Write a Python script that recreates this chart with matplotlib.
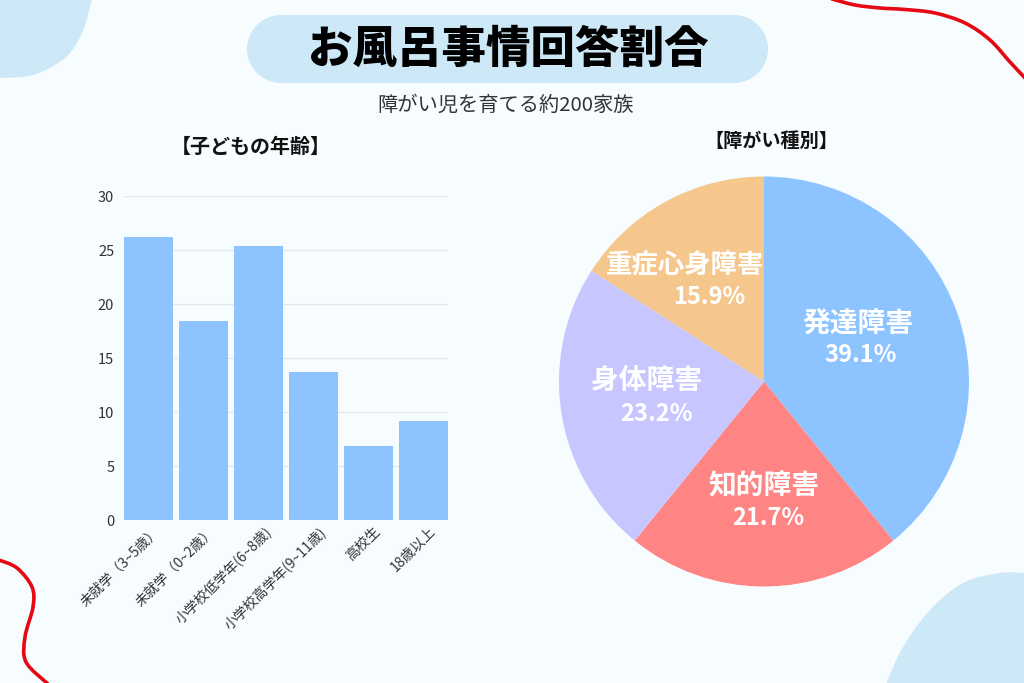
import matplotlib
matplotlib.use("Agg")
import matplotlib.pyplot as plt
from matplotlib.patches import PathPatch
from matplotlib.path import Path
from matplotlib.transforms import ScaledTranslation

plt.rcParams['font.family'] = ['Noto Sans CJK JP', 'DejaVu Sans']

age_labels = ['未就学（3~5歳）', '未就学（0~2歳）', '小学校低学年(6~8歳)', '小学校高学年(9~11歳)', '高校生', '18歳以上']
age_values = [26.2, 18.45, 25.4, 13.75, 6.85, 9.15]
y_ticks = [0, 5, 10, 15, 20, 25, 30]

kind_labels = ['発達障害', '知的障害', '身体障害', '重症心身障害']
kind_values = [39.1, 21.7, 23.2, 15.9]
kind_colors = ['#8DC4FF', '#FF8585', '#C8C6FF', '#F6C78C']

title = 'お風呂事情回答割合'
subtitle = '障がい児を育てる約200家族'
left_title = '【子どもの年齢】'
right_title = '【障がい種別】'

W, H = 1024, 683
BG = '#F7FCFF'
BLOB = '#CDE8F7'
fig = plt.figure(figsize=(W / 100, H / 100), dpi=100, facecolor=BG)


def smooth(points):
    verts = [points[0]]
    codes = [Path.MOVETO]
    n = len(points)
    for i in range(n - 1):
        p0 = points[max(i - 1, 0)]
        p1 = points[i]
        p2 = points[i + 1]
        p3 = points[min(i + 2, n - 1)]
        c1 = (p1[0] + (p2[0] - p0[0]) / 6, p1[1] + (p2[1] - p0[1]) / 6)
        c2 = (p2[0] - (p3[0] - p1[0]) / 6, p2[1] - (p3[1] - p1[1]) / 6)
        verts += [c1, c2, p2]
        codes += [Path.CURVE4] * 3
    return verts, codes


def pill(x0, y0, x1, y1):
    r = (y1 - y0) / 2
    k = 0.5523
    ym = (y0 + y1) / 2
    v = [(x0 + r, y0), (x1 - r, y0),
         (x1 - r + k * r, y0), (x1, ym - k * r), (x1, ym),
         (x1, ym + k * r), (x1 - r + k * r, y1), (x1 - r, y1),
         (x0 + r, y1),
         (x0 + r - k * r, y1), (x0, ym + k * r), (x0, ym),
         (x0, ym - k * r), (x0 + r - k * r, y0), (x0 + r, y0),
         (x0 + r, y0)]
    c = [Path.MOVETO, Path.LINETO] + [Path.CURVE4] * 6 + [Path.LINETO] + [Path.CURVE4] * 6 + [Path.CLOSEPOLY]
    return Path(v, c)


# Decoration layer in pixel coordinates
bg = fig.add_axes([0, 0, 1, 1], zorder=0)
bg.set_xlim(0, W)
bg.set_ylim(H, 0)
bg.axis('off')

for pts, corner in (
    ([(92, -1), (82, 33), (65, 58), (33, 75), (-1, 78)], (-1, -1)),
    ([(886, 684), (903, 647), (930, 610), (963, 583), (1000, 573), (1025, 573)], (1025, 684)),
):
    v, c = smooth(pts)
    v = v + [corner, v[0]]
    c = c + [Path.LINETO, Path.CLOSEPOLY]
    bg.add_patch(PathPatch(Path(v, c), fc=BLOB, ec='none'))

for pts in (
    [(832, -1), (855, 5), (880, 8), (905, 9.5), (935, 13), (965, 23), (990, 40), (1010, 62), (1025, 78)],
    [(-1, 560), (17, 568), (32, 587), (33, 607), (25, 637), (26, 662), (48, 684)],
):
    v, c = smooth(pts)
    bg.add_patch(PathPatch(Path(v, c), fc='none', ec='#E50914', lw=2.6, capstyle='round'))

bg.add_patch(PathPatch(pill(247, 15, 768, 83), fc=BLOB, ec='none'))

bg.text(508, 49, title, fontsize=32, fontweight='black', ha='center', va='center', color='black')
bg.text(506, 105, subtitle, fontsize=14.6, ha='center', va='center', color='#333333')
bg.text(251, 146, left_title, fontsize=14.4, fontweight='bold', ha='center', va='center', color='#111111')
bg.text(771, 141, right_title, fontsize=13.8, fontweight='bold', ha='center', va='center', color='#111111')

# Bar chart
left, right, top, bottom = 124, 448, 196, 520
ax = fig.add_axes([left / W, 1 - bottom / H, (right - left) / W, (bottom - top) / H], zorder=1)
ax.patch.set_alpha(0)
x = list(range(len(age_values)))
ax.bar(x, age_values, width=0.89, color='#8DC4FF', zorder=3)
ax.set_xlim(-0.445, 5.445)
ax.set_ylim(0, 30)
ax.set_yticks(y_ticks)
ax.set_xticks(x)
ax.set_xticklabels(age_labels, rotation=45, ha='right', rotation_mode='anchor', fontsize=10, color='#333333')
ax.tick_params(axis='both', length=0, labelcolor='#333333')
ax.tick_params(axis='y', labelsize=10.5, pad=7)
ax.tick_params(axis='x', labelsize=10, pad=3)
shift = ScaledTranslation(5 / 100, 0, fig.dpi_scale_trans)
for lab in ax.get_xticklabels():
    lab.set_transform(lab.get_transform() + shift)
ax.grid(axis='y', color='#E3E8EC', lw=0.9, zorder=0)
for s in ax.spines.values():
    s.set_visible(False)

# Pie chart
cx, cy, r = 764, 381.5, 205
pax = fig.add_axes([(cx - r) / W, 1 - (cy + r) / H, 2 * r / W, 2 * r / H], zorder=1)
pax.pie(kind_values, colors=kind_colors, startangle=90, counterclock=False, radius=1,
        wedgeprops=dict(edgecolor='none'))
pax.set_xlim(-1, 1)
pax.set_ylim(-1, 1)

name_pos = [(858, 325), (764, 486), (646, 381), (684.5, 266)]
pct_pos = [(861, 355), (768, 518), (656, 414), (709, 297)]
name_sizes = [20, 20, 20, 19]
for (nx, ny), (qx, qy), name, val, fs in zip(name_pos, pct_pos, kind_labels, kind_values, name_sizes):
    fig.text(nx / W, 1 - ny / H, name, fontsize=fs, fontweight='bold', color='white',
             ha='center', va='center', zorder=5)
    fig.text(qx / W, 1 - qy / H, f'{val}%', fontsize=17, fontweight='bold', color='white',
             ha='center', va='center', zorder=5)

fig.savefig('out.png', dpi=100, facecolor=BG)
